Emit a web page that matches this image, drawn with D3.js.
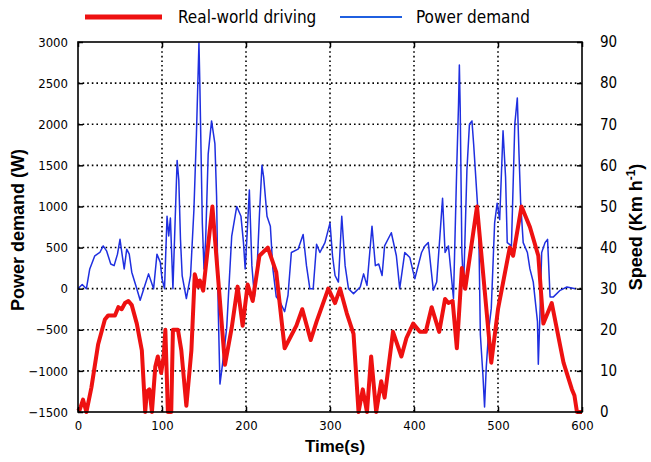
<!DOCTYPE html>
<html><head><meta charset="utf-8">
<script src="https://cdn.jsdelivr.net/npm/d3@7"></script>
<style>
body{margin:0;background:#fff;}
svg{display:block;}
text{font-family:"Liberation Sans Narrow","Arial Narrow","DejaVu Sans Condensed","Liberation Sans",sans-serif;fill:#000;}
</style></head>
<body><svg id="c" width="651" height="462"></svg>
<script>
// ---- data ----
const timeTicks = [0,100,200,300,400,500,600];
const powerTicks = [-1500,-1000,-500,0,500,1000,1500,2000,2500,3000];
const speedTicks = [0,10,20,30,40,50,60,70,80,90];

const speedTime = [0,2,6,10,16,24,32,36,44,48,52,56,60,64,70,76,80,82,85,88,92,95,99,102,104,107,111,113,119,123,129,135,139,143,145,149,160,175,183,190,196,202,208,216,226,236,246,260,267,277,284,298,306,312,320,328,334,339,344,349,355,361,365,375,385,391,399,407,414,421,430,437,441,446,451,457,461,475,492,500,514,518,528,538,548,554,564,578,588,591,594,600];
const speedValue = [1,0.5,3,0,6,16.5,22.5,23.5,23.5,25.5,25,26.5,27,26,21.5,15,0,5,5.5,0,11,13.5,9.5,13.5,20,0,0,20,20,15,1.5,15,33.5,30.5,32,29.5,50,11.5,20.5,30.5,21,31,27,38,40,34,15.5,21,25,17.5,22,30,26.5,30,24,19,0,5.5,0,13.5,0,7.5,3.5,19.5,13.5,18,21.5,19.5,19.5,25.5,19.5,27.5,26.5,27,15.5,35,30,50,12,25,40,38,50,45,38,21.5,26.5,12,5.5,4,0,0];

const powerTime = [0,2,5,10,14,20,26,30,34,39,43,47,50,53,55,58,61,64,70,74,79,84,90,94,98,100,103,106,108,110,113,118,120,122,124,129,134,138,141,144,145,148,150,152,155,159,163,165,167,169,172,177,183,189,194,197,199,201,204,207,210,213,216,219,221,225,229,232,236,240,246,250,254,262,268,272,276,280,284,288,294,300,303,306,310,314,318,322,328,336,340,344,350,354,358,362,365,373,379,383,389,395,401,409,413,417,423,427,434,437,441,447,451,453,454,455,457,459,463,466,469,471,475,477,479,482,484,486,489,492,496,499,502,506,509,511,516,520,523,525,527,530,535,538,542,547,548,550,552,556,559,562,566,574,582,592];
const powerValue = [0,20,50,0,240,400,440,520,460,300,280,420,600,380,240,480,420,200,0,-140,20,180,0,420,320,120,0,880,640,860,0,1560,1320,600,160,-120,160,960,1880,2990,2520,800,240,600,1640,2040,1760,1120,-280,-1160,-920,-480,640,1000,880,560,240,600,1200,280,-100,200,900,1500,1360,880,760,240,-100,-150,-280,-80,440,480,660,280,0,0,540,440,560,800,400,160,80,880,280,0,-60,20,180,40,760,280,300,160,520,680,400,0,440,380,120,440,520,560,-20,80,1100,440,520,-120,1520,2240,2720,2200,440,0,1440,2000,2040,1760,1120,800,-560,-1040,-1440,-960,-500,-240,800,1040,840,1920,1360,560,520,2000,2320,1640,1040,560,440,240,80,-400,-920,-300,440,560,600,-100,-100,-20,20,0];

const legendLabels = ["Real-world driving","Power demand"];

// ---- layout ----
const svg = d3.select("#c");
const L=78, R=582, T=42, B=412;
const x = d3.scaleLinear().domain([0,600]).range([L,R]);
const yP = d3.scaleLinear().domain([-1500,3000]).range([B,T]);
const yS = d3.scaleLinear().domain([0,90]).range([B,T]);

// grid
const g = svg.append("g");
g.selectAll(".vg").data(timeTicks.slice(1,-1)).enter().append("line")
 .attr("x1",d=>x(d)).attr("x2",d=>x(d)).attr("y1",T).attr("y2",B)
 .attr("stroke","#000").attr("stroke-width",1.6).attr("stroke-dasharray","1.6,3");
g.selectAll(".hg").data(powerTicks.slice(1,-1)).enter().append("line")
 .attr("y1",d=>yP(d)).attr("y2",d=>yP(d)).attr("x1",L).attr("x2",R)
 .attr("stroke","#000").attr("stroke-width",1.6).attr("stroke-dasharray","1.6,3");

// lines
const pData = powerTime.map((t,i)=>[t,powerValue[i]]);
const sData = speedTime.map((t,i)=>[t,speedValue[i]]);
svg.append("path").datum(pData)
 .attr("d",d3.line().x(d=>x(d[0])).y(d=>yP(d[1])))
 .attr("fill","none").attr("stroke","#1f2fe0").attr("stroke-width",1.5).attr("stroke-linejoin","round");
svg.append("path").datum(sData)
 .attr("d",d3.line().x(d=>x(d[0])).y(d=>yS(d[1])))
 .attr("fill","none").attr("stroke","#ee1111").attr("stroke-width",4).attr("stroke-linejoin","round");

// axes
const fs=13;
const fmt = d3.format("d");
const ax = svg.append("g").attr("transform",`translate(0,${B})`)
 .call(d3.axisBottom(x).tickValues(timeTicks).tickFormat(fmt).tickSize(-5).tickPadding(9));
const al = svg.append("g").attr("transform",`translate(${L},0)`)
 .call(d3.axisLeft(yP).tickValues(powerTicks).tickFormat(fmt).tickSize(-5).tickPadding(10));
const ar = svg.append("g").attr("transform",`translate(${R},0)`)
 .call(d3.axisRight(yS).tickValues(speedTicks).tickFormat(fmt).tickSize(-5).tickPadding(18));
const at = svg.append("g").attr("transform",`translate(0,${T})`)
 .call(d3.axisTop(x).tickValues(timeTicks).tickSize(-5).tickFormat(""));
[ax,al,ar,at].forEach(a=>{
  a.select(".domain").remove();
  a.selectAll("line").attr("stroke","#000").attr("stroke-width",1.5);
  a.selectAll("text").attr("font-size",fs).attr("fill","#000")
   .style("font-family",'"Liberation Sans Narrow","Arial Narrow","DejaVu Sans Condensed",sans-serif');
});
ar.selectAll("text").attr("font-size",15);

// frame
svg.append("rect").attr("x",L).attr("y",T).attr("width",R-L).attr("height",B-T)
 .attr("fill","none").attr("stroke","#000").attr("stroke-width",1.6);

// titles
svg.append("text").attr("x",335).attr("y",452).attr("text-anchor","middle")
 .attr("font-size",17).attr("font-weight","bold").style("font-family","'Liberation Sans',Arial,sans-serif").text("Time(s)");
svg.append("text").attr("transform",`translate(24,${(T+B)/2+3}) rotate(-90)`).attr("text-anchor","middle")
 .attr("font-size",18).attr("font-weight","bold").style("font-family","'Liberation Sans',Arial,sans-serif").text("Power demand (W)");
const st = svg.append("text").attr("transform",`translate(642,${(T+B)/2}) rotate(-90)`).attr("text-anchor","middle")
 .attr("font-size",18).attr("font-weight","bold").style("font-family","'Liberation Sans',Arial,sans-serif");
st.append("tspan").text("Speed (Km h");
st.append("tspan").attr("font-size",12).attr("dy",-7).text("-1");
st.append("tspan").attr("dy",7).text(")");

// legend
svg.append("line").attr("x1",85).attr("x2",162).attr("y1",17).attr("y2",17).attr("stroke","#ee1111").attr("stroke-width",5);
svg.append("text").attr("x",178).attr("y",23).attr("font-size",17).text(legendLabels[0]);
svg.append("line").attr("x1",340).attr("x2",402).attr("y1",17).attr("y2",17).attr("stroke","#1f5fe0").attr("stroke-width",2);
svg.append("text").attr("x",416).attr("y",23).attr("font-size",17).text(legendLabels[1]);
</script></body></html>
